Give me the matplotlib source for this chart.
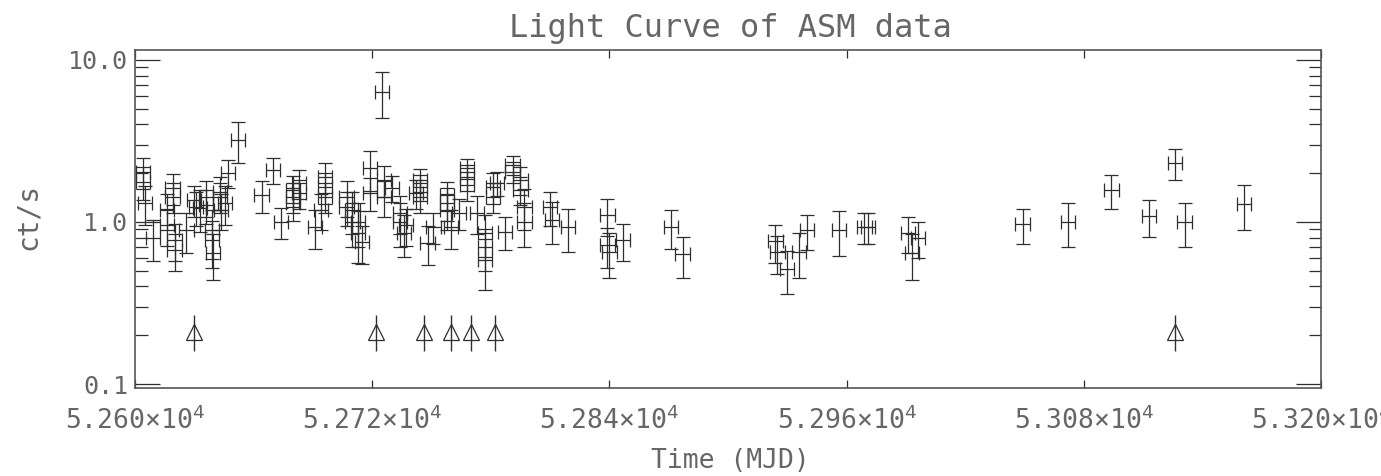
import matplotlib
matplotlib.use("Agg")
import matplotlib.pyplot as plt
from matplotlib.ticker import FixedLocator, NullFormatter

# ---- data ----
mjd = [52604, 52604, 52605, 52609, 52616, 52616, 52619, 52619, 52620, 52620,
       52626, 52630, 52631, 52633, 52636, 52636, 52639, 52639, 52639.5, 52643,
       52643, 52643.5, 52645.5, 52647, 52652, 52664, 52670, 52674, 52680, 52680,
       52680, 52683, 52683, 52691, 52694, 52696, 52696, 52696, 52707, 52707,
       52710, 52710, 52713, 52713, 52715, 52719, 52719, 52725, 52726, 52726,
       52730, 52734, 52734, 52737, 52736, 52742, 52744, 52744, 52744, 52748,
       52751, 52758, 52758, 52758, 52760, 52764, 52768, 52768, 52768, 52773,
       52777, 52777, 52777, 52781, 52781, 52783, 52787, 52791, 52791, 52795,
       52795, 52797, 52797, 52810, 52811, 52819, 52839, 52839, 52840, 52847,
       52871, 52877, 52924, 52925, 52930, 52936, 52940, 52956, 52969, 52971,
       52991, 52993, 52996, 53049, 53072, 53094, 53113, 53126, 53131, 53161]
rate = [2.04, 1.77, 1.31, 0.80, 1.19, 0.96, 1.62, 1.43, 0.77, 0.67,
        0.89, 1.37, 1.24, 1.22, 1.43, 1.27, 0.89, 0.77, 0.64, 1.53,
        1.43, 1.19, 1.31, 2.01, 3.21, 1.47, 2.09, 1.00, 1.58, 1.43,
        1.31, 1.74, 1.51, 0.93, 1.19, 1.90, 1.64, 1.43, 1.43, 1.24,
        1.19, 1.00, 1.00, 0.86, 0.75, 2.15, 1.51, 6.36, 1.82, 1.43,
        1.62, 1.14, 1.00, 0.96, 0.86, 1.51, 1.82, 1.64, 1.43, 0.74,
        0.93, 1.47, 1.31, 1.19, 0.93, 1.14, 2.15, 1.90, 1.69, 1.14,
        0.86, 0.70, 0.58, 1.64, 1.43, 1.74, 0.87, 2.25, 2.04, 1.82,
        1.58, 1.24, 1.00, 1.24, 1.03, 0.93, 1.10, 0.72, 0.65, 0.77,
        0.93, 0.63, 0.76, 0.65, 0.51, 0.65, 0.89, 0.89, 0.93, 0.93,
        0.86, 0.64, 0.80, 0.97, 1.00, 1.58, 1.09, 2.31, 1.00, 1.29]
err = [0.45, 0.40, 0.35, 0.23, 0.30, 0.25, 0.35, 0.30, 0.20, 0.17,
       0.25, 0.30, 0.30, 0.35, 0.35, 0.30, 0.30, 0.25, 0.20, 0.35,
       0.30, 0.30, 0.35, 0.40, 0.90, 0.33, 0.38, 0.22, 0.35, 0.30,
       0.30, 0.35, 0.30, 0.25, 0.30, 0.40, 0.35, 0.30, 0.35, 0.30,
       0.35, 0.30, 0.30, 0.30, 0.20, 0.60, 0.35, 2.00, 0.40, 0.35,
       0.30, 0.30, 0.30, 0.25, 0.25, 0.30, 0.30, 0.30, 0.30, 0.20,
       0.20, 0.30, 0.30, 0.30, 0.25, 0.25, 0.30, 0.35, 0.35, 0.30,
       0.25, 0.20, 0.20, 0.35, 0.30, 0.30, 0.20, 0.30, 0.30, 0.35,
       0.30, 0.35, 0.30, 0.30, 0.30, 0.28, 0.28, 0.20, 0.20, 0.20,
       0.25, 0.18, 0.20, 0.17, 0.15, 0.20, 0.22, 0.27, 0.20, 0.20,
       0.22, 0.20, 0.20, 0.24, 0.30, 0.37, 0.28, 0.50, 0.30, 0.40]
time_err = 3.6  # days

upper_limit_mjd = [52630, 52722, 52746, 52760, 52770, 52782, 53126]
upper_limit_rate = 0.21

xticks = [52600, 52720, 52840, 52960, 53080, 53200]
xtick_labels = ["5.260×10$^{4}$", "5.272×10$^{4}$", "5.284×10$^{4}$",
                "5.296×10$^{4}$", "5.308×10$^{4}$", "5.320×10$^{4}$"]
yticks = [0.1, 1.0, 10.0]
ytick_labels = ["0.1", "1.0", "10.0"]

# ---- style ----
ink = "#2e2e2e"
txt = "#666666"
plt.rcParams["font.family"] = ["DejaVu Sans Mono", "DejaVu Sans"]
plt.rcParams["mathtext.fontset"] = "dejavusans"

fig = plt.figure(figsize=(13.81, 4.76), dpi=100)
ax = fig.add_axes([135 / 1381, 1 - 388 / 476, (1321 - 135) / 1381, (388 - 50) / 476])

ax.errorbar(mjd, rate, yerr=err, xerr=time_err, fmt="none", ecolor=ink,
            elinewidth=0.9, capsize=5.0, capthick=0.9)

ax.vlines(upper_limit_mjd, 0.16, 0.265, color=ink, linewidth=1.0)
ax.plot(upper_limit_mjd, [upper_limit_rate] * len(upper_limit_mjd), linestyle="none",
        marker="^", markersize=12, markerfacecolor="none", markeredgecolor=ink,
        markeredgewidth=0.9)

ax.set_yscale("log")
ax.set_xlim(52600, 53200)
ax.set_ylim(0.0945, 11.5)

ax.xaxis.set_major_locator(FixedLocator(xticks))
ax.set_xticklabels(xtick_labels)
ax.xaxis.set_minor_locator(FixedLocator([]))
ax.yaxis.set_major_locator(FixedLocator(yticks))
ax.set_yticklabels(ytick_labels)
minor = [m * d for d in (0.1, 1.0) for m in range(2, 10)]
ax.yaxis.set_minor_locator(FixedLocator(minor))
ax.yaxis.set_minor_formatter(NullFormatter())

ax.tick_params(axis="x", which="major", direction="in", length=6, width=0.9,
               top=True, bottom=True, labelsize=19, pad=13, colors=ink, labelcolor=txt)
ax.tick_params(axis="y", which="major", direction="in", length=18, width=0.9,
               left=True, right=True, labelsize=18, pad=5, colors=ink, labelcolor=txt)
ax.tick_params(axis="y", which="minor", direction="in", length=9, width=0.9,
               left=True, right=True, colors=ink)

for s in ax.spines.values():
    s.set_color("#555555")
    s.set_linewidth(1.2)

fig.text(730 / 1381, 1 - 28 / 476, "Light Curve of ASM data", ha="center", va="center",
         fontsize=23, color=txt)
fig.text(730 / 1381, 1 - 461 / 476, "Time (MJD)", ha="center", va="center",
         fontsize=19, color=txt)
fig.text(28 / 1381, 1 - 216 / 476, "ct/s", ha="center", va="center", rotation=90,
         fontsize=20, color=txt)

fig.savefig("out.png", dpi=100)
